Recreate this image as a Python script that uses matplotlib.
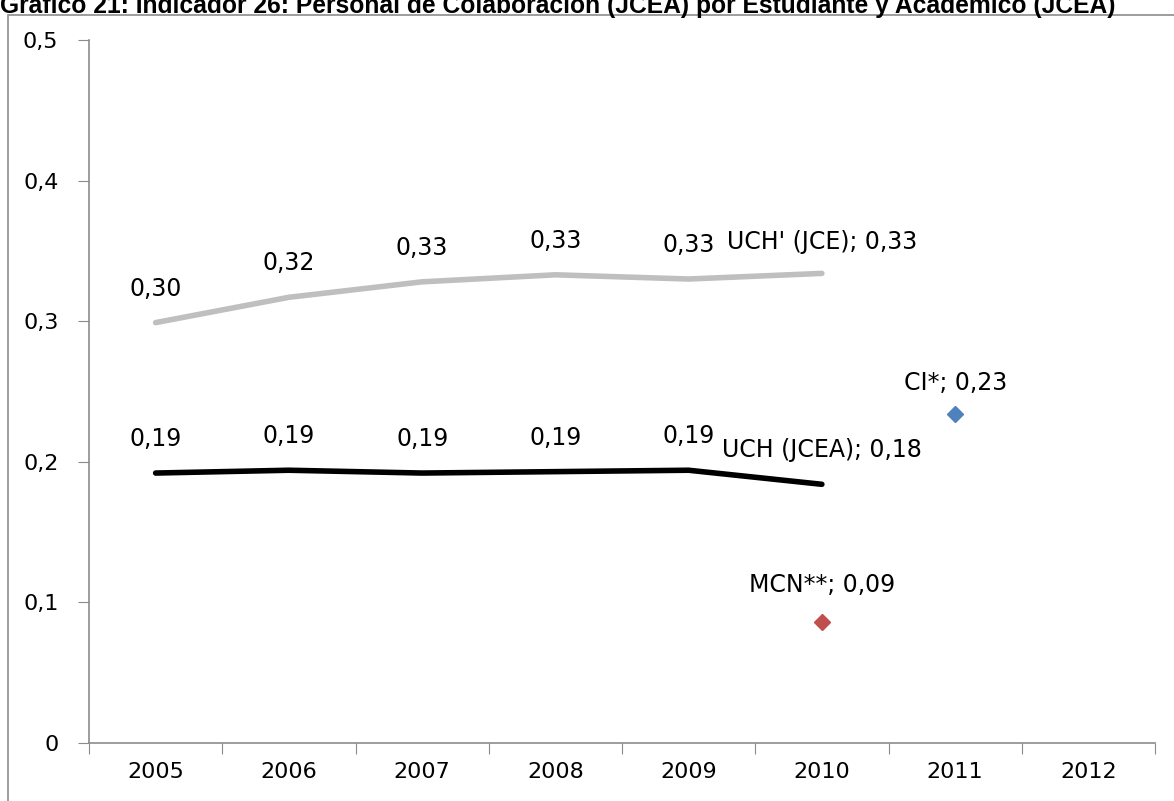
import matplotlib.pyplot as plt
from matplotlib.patches import Rectangle

years = ['2005', '2006', '2007', '2008', '2009', '2010', '2011', '2012']
uch_jce = [0.299, 0.317, 0.328, 0.333, 0.330, 0.334]
uch_jcea = [0.192, 0.194, 0.192, 0.193, 0.194, 0.184]
ci_value = 0.234
mcn_value = 0.086
ci_year = '2011'
mcn_year = '2010'

plt.rcParams['font.family'] = ['DejaVu Sans']

fig = plt.figure(figsize=(11.74, 8.01), dpi=100)
ax = fig.add_axes([89 / 1174, 1 - 743 / 801, (1155 - 89) / 1174, (743 - 40) / 801])

# outer frame of the chart area
fig.patches.append(Rectangle((8 / 1174, -0.1), 1.2, 1 - 15 / 801 + 0.1,
                             transform=fig.transFigure, fill=False,
                             edgecolor='#8c8c8c', linewidth=1.2))
fig.text(0.0, 1 - 13 / 801, 'Gráfico 21: Indicador 26: Personal de Colaboración (JCEA) por Estudiante y Académico (JCEA)',
         fontsize=17.7, fontweight='bold', ha='left', va='baseline',
         family=['Liberation Sans', 'DejaVu Sans'])

x_idx = list(range(len(years)))
n = len(uch_jce)
ax.plot(x_idx[:n], uch_jce, color='#bfbfbf', linewidth=4, solid_capstyle='round')
ax.plot(x_idx[:n], uch_jcea, color='black', linewidth=4, solid_capstyle='round')
ax.plot(years.index(ci_year), ci_value, marker='D', color='#4f81bd', markersize=8, linestyle='none')
ax.plot(years.index(mcn_year), mcn_value, marker='D', color='#c0504d', markersize=8, linestyle='none')

fs = 17
tfs = 16
for i, v in enumerate(uch_jce[:-1]):
    ax.annotate(f'{v:.2f}'.replace('.', ','), (i, v), xytext=(0, 34), textcoords='offset pixels',
                ha='center', va='center', fontsize=fs)
for i, v in enumerate(uch_jcea[:-1]):
    ax.annotate(f'{v:.2f}'.replace('.', ','), (i, v), xytext=(0, 34), textcoords='offset pixels',
                ha='center', va='center', fontsize=fs)
ax.annotate(f"UCH' (JCE); {uch_jce[-1]:.2f}".replace('.', ','), (n - 1, uch_jce[-1]), xytext=(0, 31),
            textcoords='offset pixels', ha='center', va='center', fontsize=fs)
ax.annotate(f"UCH (JCEA); {uch_jcea[-1]:.2f}".replace('.', ','), (n - 1, uch_jcea[-1]), xytext=(0, 34),
            textcoords='offset pixels', ha='center', va='center', fontsize=fs)
ax.annotate(f"CI*; {ci_value:.2f}".replace('.', ','), (years.index(ci_year), ci_value), xytext=(0, 31),
            textcoords='offset pixels', ha='center', va='center', fontsize=fs)
ax.annotate(f"MCN**; {mcn_value:.2f}".replace('.', ','), (years.index(mcn_year), mcn_value), xytext=(0, 37),
            textcoords='offset pixels', ha='center', va='center', fontsize=fs)

ax.set_xlim(-0.5, len(years) - 0.5)
ax.set_ylim(0, 0.5)
ax.set_yticks([0, 0.1, 0.2, 0.3, 0.4, 0.5])
ax.set_yticklabels(['0', '0,1', '0,2', '0,3', '0,4', '0,5'], fontsize=tfs)
ax.set_xticks([i - 0.5 for i in range(len(years) + 1)])
ax.set_xticklabels([])
ax.set_xticks(x_idx, minor=True)
ax.set_xticklabels(years, minor=True, fontsize=tfs)
ax.tick_params(axis='x', which='minor', length=0, pad=14)
ax.tick_params(axis='x', which='major', length=8, color='#8c8c8c')
ax.tick_params(axis='y', length=8, color='#8c8c8c', pad=14)
for s in ['top', 'right']:
    ax.spines[s].set_visible(False)
for s in ['left', 'bottom']:
    ax.spines[s].set_color('#8c8c8c')
    ax.spines[s].set_linewidth(1.2)

plt.savefig('out.png', dpi=100)
